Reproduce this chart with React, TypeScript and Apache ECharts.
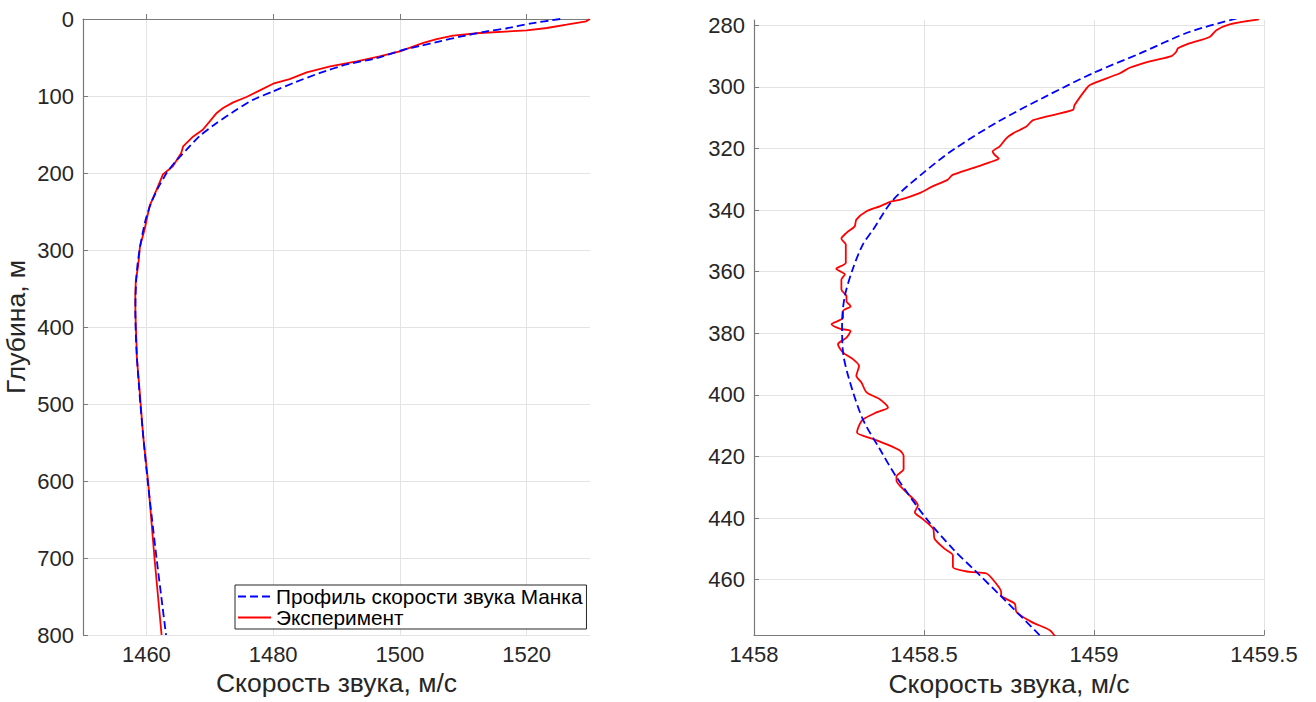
import React, { useEffect, useRef } from "react";
import * as echarts from "echarts";

// ---- Left panel: full profile 0..800 m ----
const leftMunkDepth = [0, 6, 12, 16, 23, 29, 35, 40, 51, 59, 70, 83, 94, 105, 118, 135, 152, 170, 185, 200, 220, 240, 260, 280, 300, 320, 340, 360, 380, 400, 420, 440, 460, 480, 500, 550, 600, 650, 700, 750, 800];
const leftMunkSpeed = [1525.3, 1520.5, 1516.9, 1513.7, 1509.5, 1506.3, 1503.2, 1500.5, 1496.3, 1491.6, 1487.4, 1483.2, 1480.0, 1476.8, 1474.2, 1471.1, 1468.4, 1466.3, 1464.6, 1463.2, 1461.8, 1460.7, 1459.9, 1459.36, 1458.92, 1458.59, 1458.39, 1458.29, 1458.26, 1458.3, 1458.38, 1458.51, 1458.68, 1458.86, 1459.05, 1459.6, 1460.2, 1460.9, 1461.6, 1462.35, 1463.1];

const leftExpDepth = [0, 1, 3, 7.4, 11.7, 14.8, 18.2, 21.7, 26, 31, 42, 48.6, 55, 61.6, 69.3, 78, 84, 92.7, 101.3, 108.3, 115.6, 122, 133, 143.8, 152.5, 165.5, 174, 191, 202, 222, 243, 274, 295, 320, 340, 360, 380, 400, 420, 440, 460, 478, 542, 603, 702, 800];
const leftExpSpeed = [1529.9, 1529.8, 1529.4, 1526.3, 1523.2, 1520.0, 1512.6, 1508.4, 1505.8, 1503.7, 1500.0, 1496.8, 1493.2, 1489.0, 1485.3, 1482.6, 1480.0, 1477.9, 1475.8, 1473.7, 1472.1, 1471.1, 1470.0, 1468.9, 1467.4, 1465.8, 1465.5, 1464.2, 1462.6, 1461.6, 1460.5, 1459.7, 1458.99, 1458.71, 1458.33, 1458.25, 1458.27, 1458.34, 1458.44, 1458.5, 1458.7, 1458.89, 1459.5, 1460.3, 1461.3, 1462.4];

// ---- Right panel: zoom 278..478 m ----
const rightMunkDepth = [277.8, 282.2, 289.2, 295.4, 303, 311.3, 320.5, 328, 336.7, 346.4, 351.2, 359.3, 368, 376.6, 386.3, 395, 407.9, 417.6, 426.7, 440.2, 450, 457.5, 465, 478];
const rightMunkSpeed = [1459.42, 1459.28, 1459.134, 1459.0, 1458.86, 1458.718, 1458.585, 1458.497, 1458.409, 1458.35, 1458.32, 1458.29, 1458.267, 1458.259, 1458.262, 1458.28, 1458.32, 1458.37, 1458.419, 1458.507, 1458.585, 1458.654, 1458.723, 1458.84];

const rightExpDepth = [278.1, 279.7, 281.6, 283.8, 285.9, 287.5, 288.6, 290, 291.7, 293.8, 295.6, 299.4, 300.5, 305.9, 307.5, 310.8, 312.9, 315.1, 316.7, 319.4, 321.0, 322.1, 323.3, 324.5, 326.4, 328.6, 330.2, 332.3, 334.5, 336.7, 337.2, 338.8, 340.4, 343.1, 345.3, 347.4, 349.3, 351.2, 357.1, 359.1, 360.9, 362.6, 365.8, 368, 369.6, 371.2, 372.8, 375, 377.1, 378.5, 379.3, 381.4, 383.6, 386.3, 388.4, 390.6, 393.8, 396, 399.2, 401.4, 404.1, 405.7, 407.9, 409.5, 412.2, 414.3, 416, 418.1, 419.8, 424.1, 426.5, 427.8, 431.6, 435.9, 438.1, 440.2, 443.5, 446.7, 450, 452.1, 455.9, 457.5, 458, 460.7, 464, 465.1, 467.8, 470.5, 473.7, 476.4, 478.6];
const rightExpSpeed = [1459.485, 1459.399, 1459.36, 1459.34, 1459.28, 1459.247, 1459.242, 1459.228, 1459.164, 1459.105, 1459.076, 1458.988, 1458.978, 1458.943, 1458.938, 1458.821, 1458.801, 1458.762, 1458.742, 1458.722, 1458.702, 1458.708, 1458.72, 1458.693, 1458.643, 1458.584, 1458.569, 1458.525, 1458.487, 1458.428, 1458.404, 1458.37, 1458.331, 1458.301, 1458.296, 1458.272, 1458.257, 1458.27, 1458.27, 1458.242, 1458.267, 1458.257, 1458.257, 1458.272, 1458.272, 1458.284, 1458.262, 1458.262, 1458.228, 1458.252, 1458.284, 1458.272, 1458.247, 1458.262, 1458.291, 1458.309, 1458.301, 1458.316, 1458.331, 1458.37, 1458.394, 1458.36, 1458.321, 1458.311, 1458.303, 1458.35, 1458.389, 1458.429, 1458.44, 1458.44, 1458.419, 1458.419, 1458.448, 1458.482, 1458.473, 1458.495, 1458.527, 1458.531, 1458.561, 1458.585, 1458.585, 1458.634, 1458.684, 1458.708, 1458.727, 1458.727, 1458.767, 1458.772, 1458.816, 1458.87, 1458.887];

const leftXTicks = [1460, 1480, 1500, 1520];
const rightYTicks = [280, 300, 320, 340, 360, 380, 400, 420, 440, 460];

const munkName = "Профиль скорости звука Манка";
const expName = "Эксперимент";
const xName = "Скорость звука, м/с";
const yName = "Глубина, м";

const zip = (xs: number[], ys: number[]) => xs.map((x, i) => [x, ys[i]]);

const FONT = "Liberation Sans";
const TXT = "#262626";
const AXIS = "#7a7a7a";
const GRID = "#e3e3e3";

export default function App() {
  const ref = useRef<HTMLDivElement>(null);
  useEffect(() => {
    document.body.style.margin = "0";
    const chart = echarts.init(ref.current!, undefined, { renderer: "svg" });
    const fmt = (v: number) => String(v);
    const axisCommon = {
      axisLine: { show: true, lineStyle: { color: AXIS, width: 1.2 } },
      axisTick: { show: true, inside: true, length: 5, lineStyle: { color: AXIS } },
      splitLine: { show: true, lineStyle: { color: GRID, width: 1 } },
      axisLabel: { color: TXT, fontSize: 22, fontFamily: FONT, margin: 9, formatter: fmt },
      nameTextStyle: { color: TXT, fontSize: 26.5, fontFamily: FONT },
    };
    chart.setOption({
      animation: false,
      backgroundColor: "#ffffff",
      textStyle: { fontFamily: FONT },
      grid: [
        { left: 83, top: 19, width: 507, height: 616 },
        { left: 754, top: 20, width: 510, height: 617 },
      ],
      xAxis: [
        {
          gridIndex: 0,
          type: "value",
          min: 1450,
          max: 1530,
          ...axisCommon,
          axisTick: { ...axisCommon.axisTick, customValues: leftXTicks },
          axisLabel: { ...axisCommon.axisLabel, customValues: leftXTicks, margin: 8 },
          name: xName,
          nameLocation: "middle",
          nameGap: 30,
        },
        {
          gridIndex: 1,
          type: "value",
          min: 1458,
          max: 1459.5,
          interval: 0.5,
          ...axisCommon,
          axisLabel: { ...axisCommon.axisLabel, margin: 8 },
          name: xName,
          nameLocation: "middle",
          nameGap: 30,
        },
      ],
      yAxis: [
        {
          gridIndex: 0,
          type: "value",
          inverse: true,
          min: 0,
          max: 800,
          interval: 100,
          ...axisCommon,
          name: yName,
          nameLocation: "middle",
          nameGap: 54,
        },
        {
          gridIndex: 1,
          type: "value",
          inverse: true,
          min: 278.3,
          max: 478,
          ...axisCommon,
          axisTick: { ...axisCommon.axisTick, customValues: rightYTicks },
          axisLabel: { ...axisCommon.axisLabel, customValues: rightYTicks },
        },
      ],
      legend: {
        data: [munkName, expName],
        orient: "vertical",
        left: 235,
        top: 585,
        itemWidth: 33,
        itemHeight: 14,
        itemGap: 0,
        padding: [1, 4, 1, 2],
        borderColor: "#262626",
        borderWidth: 1,
        backgroundColor: "#ffffff",
        itemStyle: { opacity: 0 },
        textStyle: { color: "#000", fontSize: 20.8, fontFamily: FONT, lineHeight: 21 },
      },
      series: [
        {
          name: munkName,
          type: "line",
          xAxisIndex: 0,
          yAxisIndex: 0,
          data: zip(leftMunkSpeed, leftMunkDepth),
          symbol: "none",
          smooth: 0.2,
          lineStyle: { color: "#0000ff", width: 1.8, type: [8, 4] },
          itemStyle: { color: "#0000ff" },
          z: 3,
        },
        {
          name: expName,
          type: "line",
          xAxisIndex: 0,
          yAxisIndex: 0,
          data: zip(leftExpSpeed, leftExpDepth),
          symbol: "none",
          lineStyle: { color: "#ff0000", width: 1.8 },
          itemStyle: { color: "#ff0000" },
          z: 2,
        },
        {
          name: munkName,
          type: "line",
          xAxisIndex: 1,
          yAxisIndex: 1,
          data: zip(rightMunkSpeed, rightMunkDepth),
          symbol: "none",
          smooth: 0.3,
          lineStyle: { color: "#0000ff", width: 1.8, type: [8, 4] },
          itemStyle: { color: "#0000ff" },
          z: 3,
        },
        {
          name: expName,
          type: "line",
          xAxisIndex: 1,
          yAxisIndex: 1,
          data: zip(rightExpSpeed, rightExpDepth),
          symbol: "none",
          smooth: 0.25,
          lineStyle: { color: "#ff0000", width: 1.8 },
          itemStyle: { color: "#ff0000" },
          z: 2,
        },
      ],
    });
    return () => chart.dispose();
  }, []);
  return <div ref={ref} style={{ width: 1316, height: 702 }} />;
}
